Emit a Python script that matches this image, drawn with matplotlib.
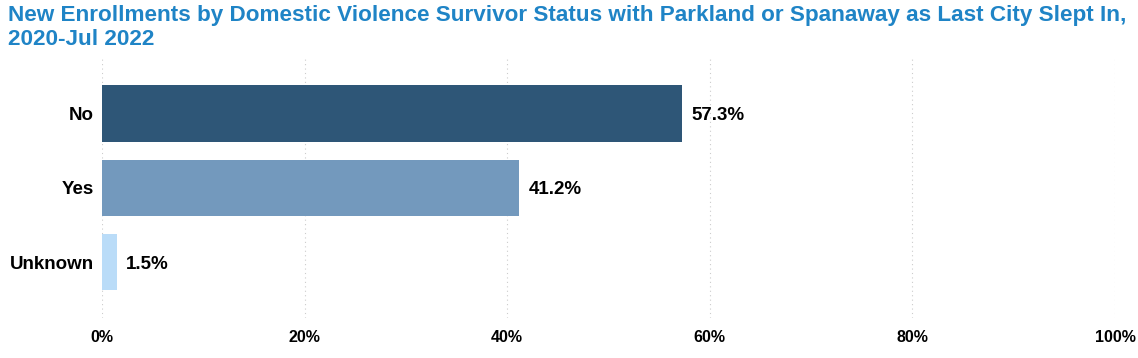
import matplotlib.pyplot as plt

# Data
categories = ["No", "Yes", "Unknown"]
values = [57.3, 41.2, 1.5]
colors = ["#2E5677", "#7399BD", "#BADCF8"]
xticks = [0, 20, 40, 60, 80, 100]

plt.rcParams['font.family'] = ['Liberation Sans', 'DejaVu Sans']

fig = plt.figure(figsize=(11.38, 3.58), dpi=100)
ax = fig.add_axes([0.0896, 0.112, 0.8902, 0.726])

ypos = list(range(len(categories)))
ax.barh(ypos, values, height=0.76, color=colors, zorder=3)

for y, v in zip(ypos, values):
    ax.text(v + 0.9, y, f"{v}%", va='center_baseline', ha='left',
            fontsize=13.5, fontweight='bold', color='black')

ax.set_xlim(0, 100)
ax.set_ylim(2.75, -0.75)
ax.set_yticks(ypos)
ax.set_yticklabels(categories, fontsize=13.5, fontweight='bold')
ax.set_xticks(xticks)
ax.set_xticklabels([f"{t}%" for t in xticks], fontsize=11.5, fontweight='bold')
ax.tick_params(length=0)
ax.tick_params(axis='y', pad=6)
ax.tick_params(axis='x', pad=9)

ax.grid(axis='x', linestyle=(0, (1, 3)), color='#CCCCCC', linewidth=0.8, zorder=0)
for s in ax.spines.values():
    s.set_visible(False)

fig.text(0.007, 0.985,
         "New Enrollments by Domestic Violence Survivor Status with Parkland or Spanaway as Last City Slept In,\n2020-Jul 2022",
         ha='left', va='top', fontsize=16.2, fontweight='bold', color='#1F84C6', linespacing=1.15)

fig.savefig("out.png", dpi=100)
